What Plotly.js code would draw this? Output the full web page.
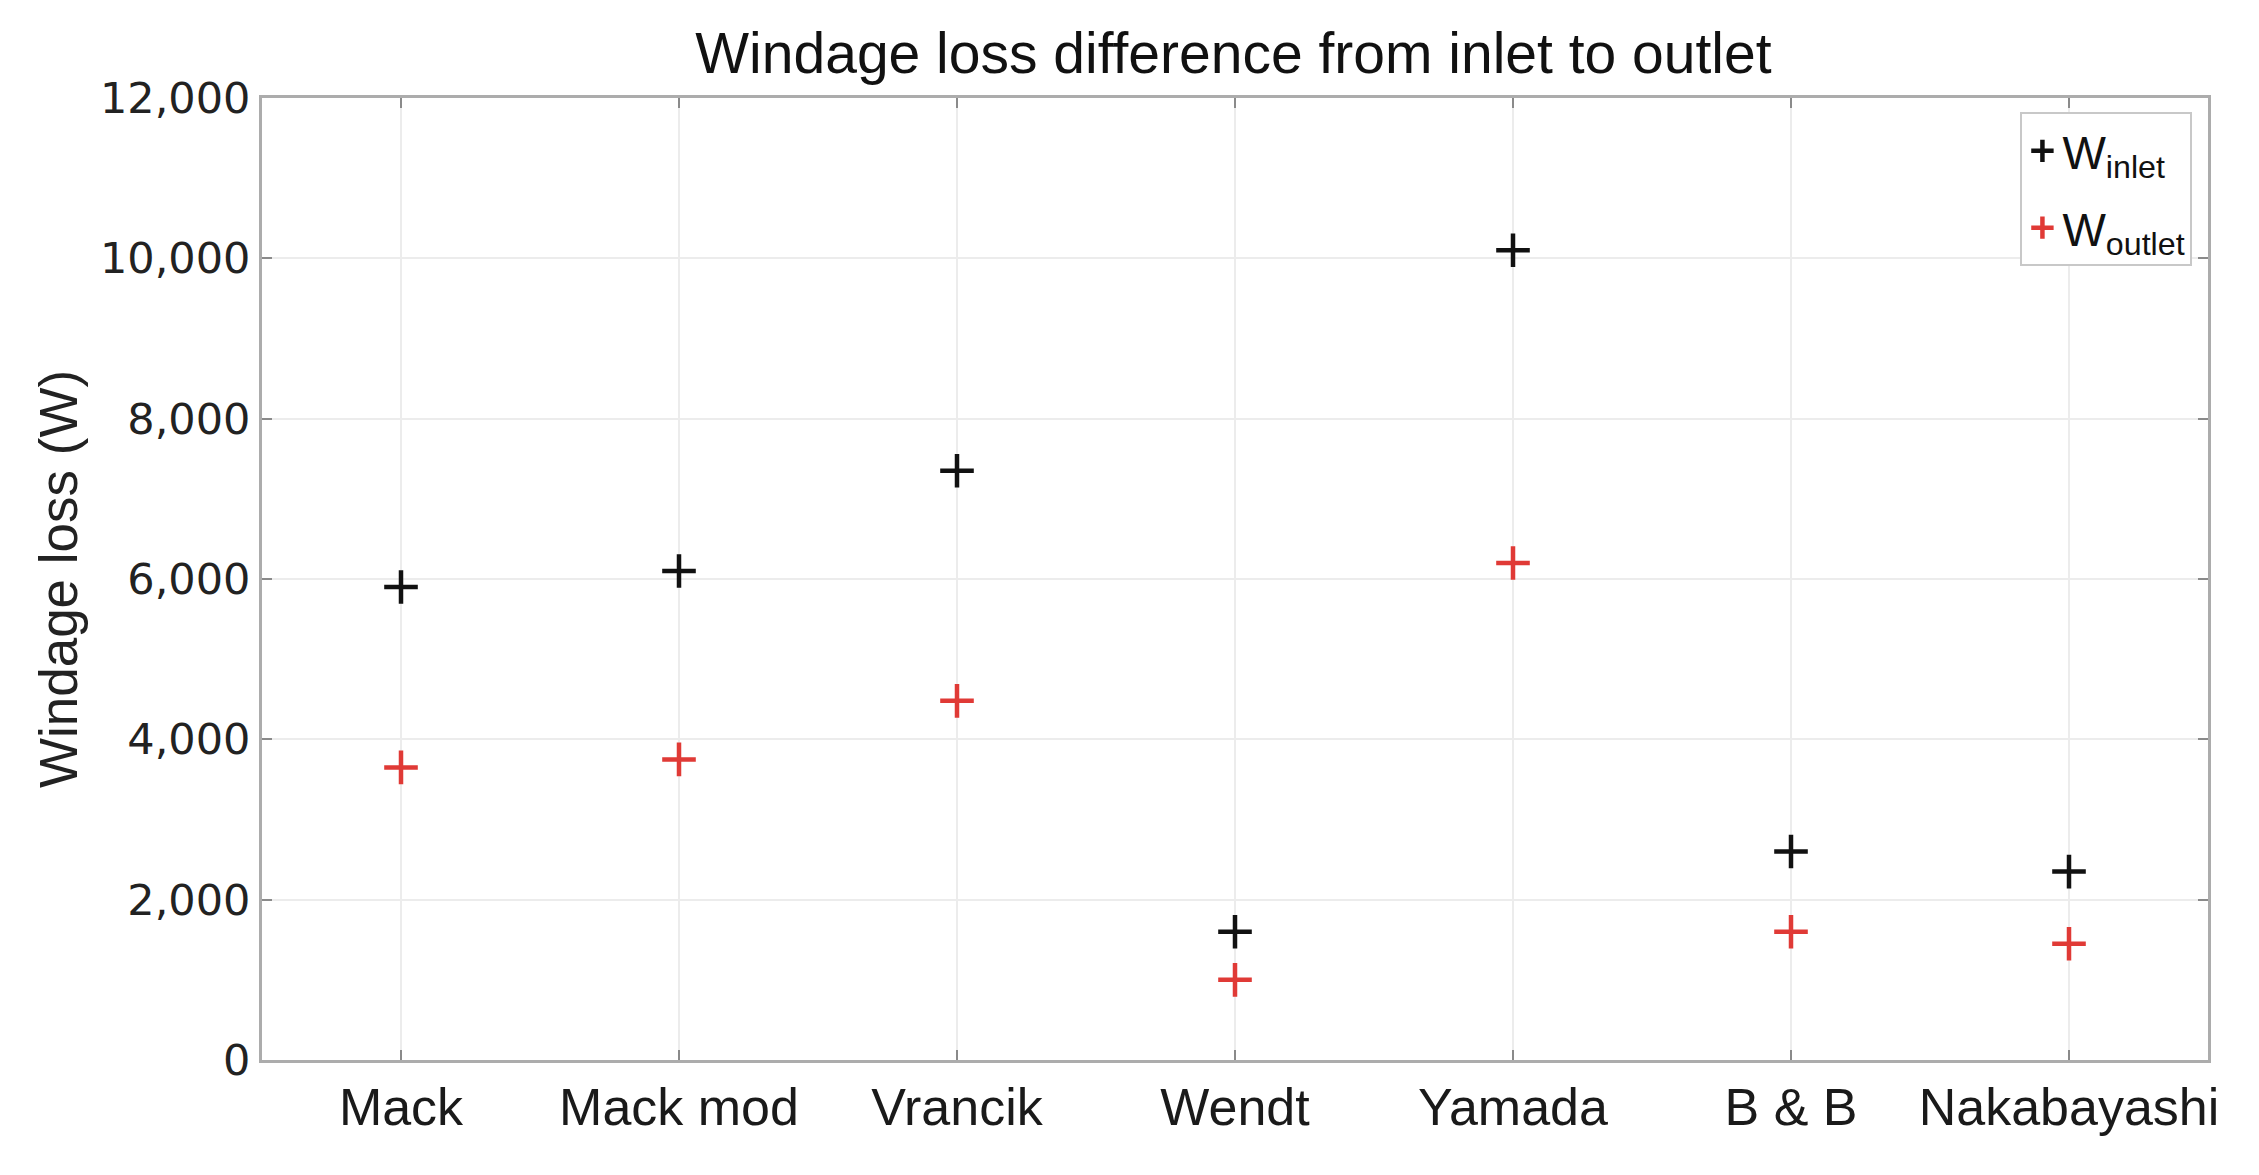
<!DOCTYPE html>
<html>
<head>
<meta charset="utf-8">
<script src="https://cdn.plot.ly/plotly-3.0.1.min.js"></script>
<style>html,body{margin:0;padding:0;background:#fff;}#chart{width:2259px;height:1175px;}</style>
</head>
<body>
<div id="chart"></div>
<script>
const categories = ["Mack", "Mack mod", "Vrancik", "Wendt", "Yamada", "B & B", "Nakabayashi"];
const inletValues = [5900, 6100, 7350, 1600, 10100, 2600, 2350];
const outletValues = [3650, 3750, 4480, 1000, 6200, 1600, 1450];
const yTickVals = [0, 2000, 4000, 6000, 8000, 10000, 12000];
const yTickText = ["0", "2,000", "4,000", "6,000", "8,000", "10,000", "12,000"];

const traces = [
  {
    type: "scatter", mode: "markers", x: categories, y: inletValues,
    name: "W<sub>inlet</sub>", legendgroup: "a",
    marker: {symbol: "cross-thin", size: 24, line: {color: "#111111", width: 4.5}, color: "#111111"}
  },
  {
    type: "scatter", mode: "markers", x: categories, y: outletValues,
    name: "W<sub>outlet</sub>", legendgroup: "b",
    marker: {symbol: "cross-thin", size: 24, line: {color: "#e03a36", width: 4.5}, color: "#e03a36"}
  }
];

const layout = {
  width: 2259, height: 1175,
  margin: {l: 262, r: 51, t: 98, b: 115},
  paper_bgcolor: "#ffffff", plot_bgcolor: "#ffffff",
  font: {family: "Liberation Sans, Arial, sans-serif", color: "#1a1a1a"},
  title: {text: "Windage loss difference from inlet to outlet", font: {size: 57, color: "#111"}, x: 0.546, xanchor: "center", y: 0.955, yanchor: "middle"},
  showlegend: true,
  legend: {
    x: 0.992, xanchor: "right", y: 0.985, yanchor: "top",
    bgcolor: "#ffffff", bordercolor: "#c8c8c8", borderwidth: 2,
    font: {size: 46, color: "#111", family: "Liberation Sans, Arial, sans-serif"},
    tracegroupgap: 14, itemwidth: 30
  },
  xaxis: {
    type: "category", range: [-0.5, 6.5],
    showgrid: true, gridcolor: "#ececec", gridwidth: 2,
    showline: true, linecolor: "#acacac", linewidth: 3, mirror: "ticks",
    ticks: "inside", ticklen: 10, tickwidth: 2, tickcolor: "#8a8a8a",
    tickfont: {size: 52, family: "Liberation Sans, Arial, sans-serif", color: "#1a1a1a"},
    zeroline: false, fixedrange: true
  },
  yaxis: {
    range: [0, 12000], tickvals: yTickVals, ticktext: yTickText,
    showgrid: true, gridcolor: "#ececec", gridwidth: 2,
    showline: true, linecolor: "#acacac", linewidth: 3, mirror: "ticks",
    ticks: "inside", ticklen: 10, tickwidth: 2, tickcolor: "#8a8a8a",
    tickfont: {size: 43, family: "DejaVu Sans, sans-serif", color: "#222"},
    title: {text: "Windage loss (W)", font: {size: 53, family: "Liberation Sans, Arial, sans-serif", color: "#222"}, standoff: 6},
    zeroline: false, fixedrange: true
  }
};

Plotly.newPlot("chart", traces, layout, {displayModeBar: false, staticPlot: true});
</script>
</body>
</html>
